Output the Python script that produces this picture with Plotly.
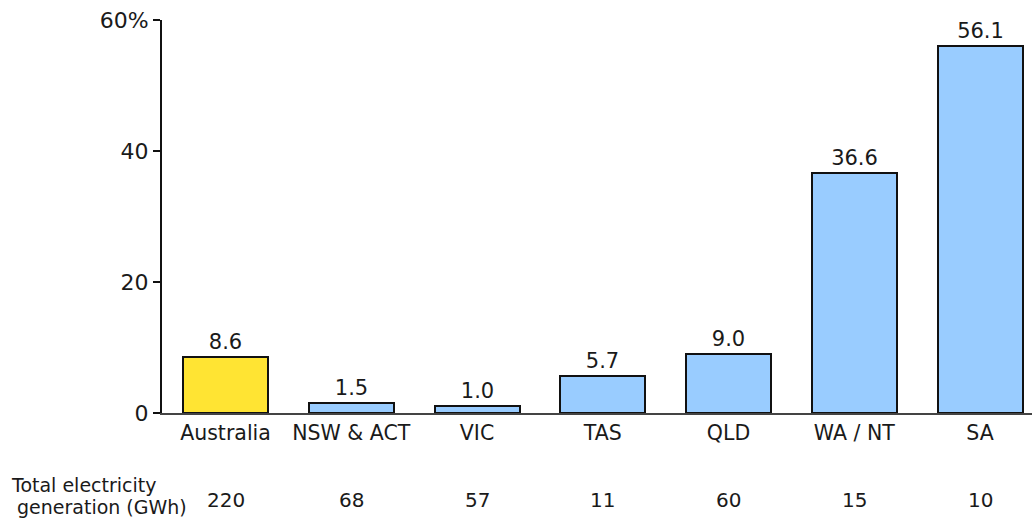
import plotly.graph_objects as go

regions = ["Australia", "NSW & ACT", "VIC", "TAS", "QLD", "WA / NT", "SA"]
share_pct = [8.6, 1.5, 1.0, 5.7, 9.0, 36.6, 56.1]
generation_gwh = [220, 68, 57, 11, 60, 15, 10]
bar_colors = ["#FFE433", "#99CCFF", "#99CCFF", "#99CCFF", "#99CCFF", "#99CCFF", "#99CCFF"]
y_ticks = [0, 20, 40, 60]
y_tick_text = ["0", "20", "40", "60%"]
row_title = ["Total electricity", "generation (GWh)"]

FONT = "DejaVu Sans, Verdana, sans-serif"
TXT = "#1a1a1a"

fig = go.Figure()
fig.add_trace(go.Bar(
    x=list(range(len(regions))),
    y=share_pct,
    width=0.676,
    marker=dict(color=bar_colors, line=dict(color="#111111", width=2)),
    text=[f"{v:.1f}" for v in share_pct],
    textposition="outside",
    textfont=dict(family=FONT, size=21, color=TXT),
    cliponaxis=False,
    hoverinfo="skip",
))

# Generation totals row beneath each region
for i, g in enumerate(generation_gwh):
    fig.add_annotation(
        x=i, xref="x", y=-0.222, yref="paper",
        text=str(g), showarrow=False,
        font=dict(family=FONT, size=20, color=TXT),
        xanchor="center", yanchor="middle",
    )

# Row title, two lines placed by pixel offsets from the figure's left edge
for line, px_x, py in zip(row_title, [10, 16], [-0.182, -0.238]):
    fig.add_annotation(
        x=(px_x - 162) / 870, xref="paper", y=py, yref="paper",
        text=line, showarrow=False, borderpad=0,
        font=dict(family=FONT, size=19, color=TXT),
        xanchor="left", yanchor="middle", align="left",
    )

fig.update_layout(
    width=1032, height=519,
    margin=dict(l=162, r=0, t=20, b=106),
    paper_bgcolor="white", plot_bgcolor="white",
    showlegend=False,
    bargap=0,
    font=dict(family=FONT, size=20, color=TXT),
)
fig.update_xaxes(
    range=[-0.505, 6.4135],
    tickmode="array", tickvals=list(range(len(regions))), ticktext=regions,
    showline=True, linecolor="#444444", linewidth=2,
    showgrid=False, zeroline=False, ticks="",
    tickfont=dict(family=FONT, size=20.5, color=TXT),
    ticklabelstandoff=0,
)
fig.update_yaxes(
    range=[0, 60],
    tickmode="array", tickvals=y_ticks, ticktext=y_tick_text,
    showline=True, linecolor="#111111", linewidth=2,
    ticks="outside", ticklen=7, tickwidth=2, tickcolor="#111111",
    showgrid=False, zeroline=False,
    tickfont=dict(family=FONT, size=22, color=TXT),
)

fig.write_html("out.html")
